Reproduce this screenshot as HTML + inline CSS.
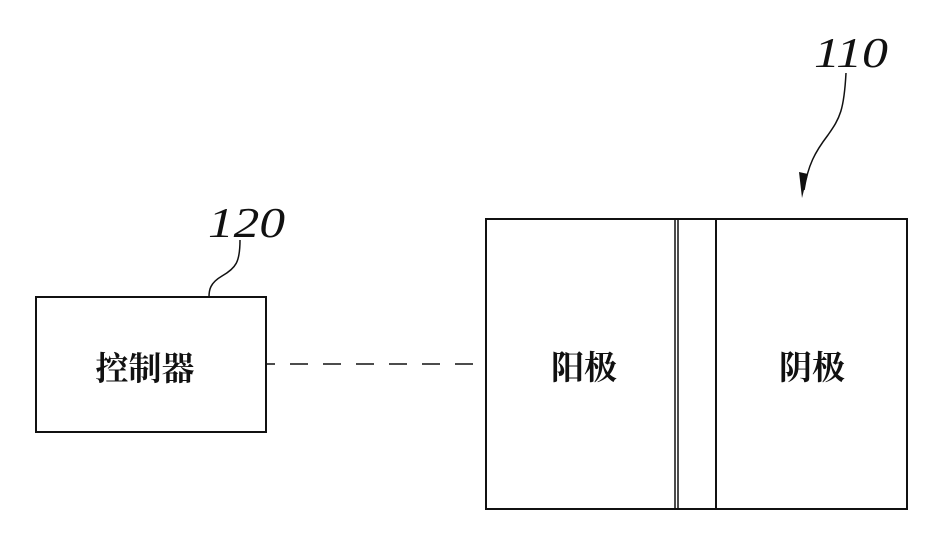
<!DOCTYPE html>
<html><head><meta charset="utf-8"><style>
html,body{margin:0;padding:0;background:#fff;}
svg{display:block;}
.cjk{font-family:"Liberation Serif","Noto Serif CJK SC","Noto Serif CJK SC",serif;font-size:33px;font-weight:bold;fill:#111;}
.num{font-family:"Liberation Serif",serif;font-style:italic;font-size:42px;fill:#111;}
</style></head><body>
<svg width="927" height="546" viewBox="0 0 927 546" xmlns="http://www.w3.org/2000/svg">
<g fill="none" stroke="#111" stroke-width="2">
<rect x="36" y="297" width="230" height="135"/>
<rect x="486" y="219" width="421" height="290"/>
<line x1="675" y1="219" x2="675" y2="509" stroke-width="1.5"/>
<line x1="678" y1="219" x2="678" y2="509" stroke-width="1.5"/>
<line x1="716" y1="219" x2="716" y2="509"/>
<line x1="267" y1="364" x2="486" y2="364" stroke-width="1.5" stroke-dasharray="18,15" stroke-dashoffset="10"/>
<path d="M240 240 C240 262 236 268 222 276 C210 283 209 290 209 297" stroke-width="1.5"/>
<path d="M846 73 C844 110 840 118 828 135 C815 152 808 165 804 190" stroke-width="1.5"/>
</g>
<polygon points="799,172 808,174 802,198" fill="#111"/>
<text class="num" x="208" y="237" textLength="77" lengthAdjust="spacingAndGlyphs">120</text>
<text class="num" x="814" y="67" textLength="74" lengthAdjust="spacingAndGlyphs">110</text>
<text class="cjk" x="145" y="380" text-anchor="middle">控制器</text>
<text class="cjk" x="584" y="379" text-anchor="middle">阳极</text>
<text class="cjk" x="812" y="379" text-anchor="middle">阴极</text>
</svg>
</body></html>
